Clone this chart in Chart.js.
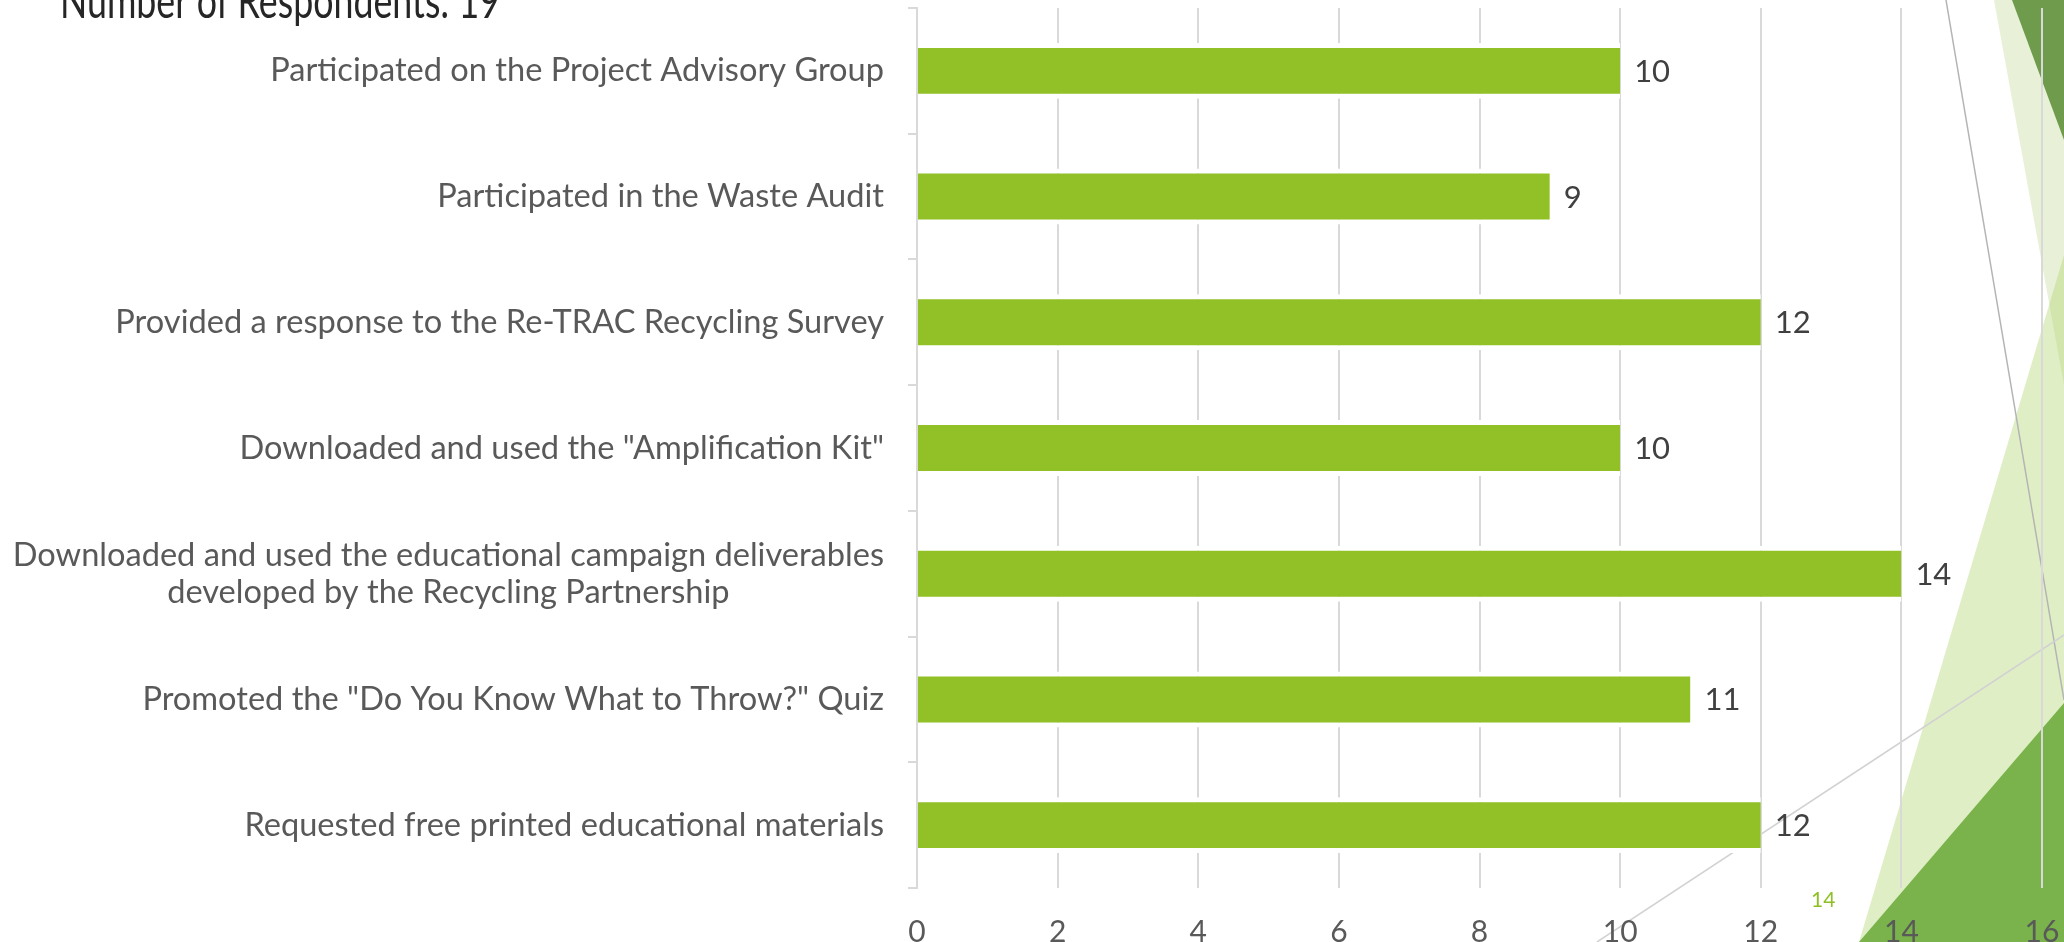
<!DOCTYPE html>
<html>
<head>
<meta charset="utf-8">
<title>Number of Respondents</title>
<script src="https://cdn.jsdelivr.net/npm/chart.js@4/dist/chart.umd.min.js"></script>
<style>
  html, body { margin: 0; padding: 0; background: #fff; overflow: hidden; }
  #wrap { position: relative; width: 2064px; height: 942px; }
  #title {
    position: absolute; left: 60px; top: -24px; margin: 0;
    font: 48px Lato, sans-serif; line-height: 1; color: #262626; white-space: nowrap;
    transform: scaleX(0.745); transform-origin: 0 0;
  }
  #pageNo {
    position: absolute; left: 1811px; top: 886px;
    font: 21px Lato, sans-serif; color: #8fbf26;
  }
</style>
</head>
<body>
<div id="wrap">
  <canvas id="chart" width="2064" height="942"></canvas>
  <div id="title">Number of Respondents: 19</div>
  <div id="pageNo">14</div>
</div>
<script>
/* ---- data ---- */
const categories = [
  ["Participated on the Project Advisory Group"],
  ["Participated in the Waste Audit"],
  ["Provided a response to the Re-TRAC Recycling Survey"],
  ['Downloaded and used the "Amplification Kit"'],
  ["Downloaded and used the educational campaign deliverables",
   "developed by the Recycling Partnership"],
  ['Promoted the "Do You Know What to Throw?" Quiz'],
  ["Requested free printed educational materials"],
];
const respondents = [10, 9, 12, 10, 14, 11, 12];
const axisMin = 0;
const axisMax = 16;
const axisStep = 2;

const FONT = "Lato, sans-serif";

/* slide background shapes (theme decoration, not data) */
const slideDecor = {
  id: "slideDecor",
  beforeDraw(chart) {
    const c = chart.ctx;
    const poly = (pts, fill) => {
      c.beginPath();
      c.moveTo(pts[0][0], pts[0][1]);
      pts.slice(1).forEach((p) => c.lineTo(p[0], p[1]));
      c.closePath();
      c.fillStyle = fill;
      c.fill();
    };
    const line = (a, b, color, w) => {
      c.beginPath();
      c.moveTo(a[0], a[1]);
      c.lineTo(b[0], b[1]);
      c.strokeStyle = color;
      c.lineWidth = w;
      c.stroke();
    };
    c.save();
    poly([[1994, 0], [2064, 0], [2064, 385]], "#e8f1d8");
    poly([[2012, 0], [2064, 0], [2064, 140]], "#6f9b4c");
    poly([[2064, 255], [1859, 942], [2064, 942]], "rgba(176,212,110,0.4)");
    poly([[2064, 703], [1859, 942], [2064, 942]], "#7ab24b");
    line([1946, 0], [2064, 700], "#b4b4b4", 1.5);
    line([1597, 942], [2064, 635], "#d2d2d2", 1.5);
    c.restore();
  },
};

/* category labels: right aligned, multi-line labels centred on themselves */
const categoryLabels = {
  id: "categoryLabels",
  afterDraw(chart) {
    const c = chart.ctx;
    const y = chart.scales.y;
    const right = y.right - 33;
    const lh = 37;
    c.save();
    c.font = "32.6px " + FONT;
    c.fillStyle = "#595959";
    c.textBaseline = "middle";
    categories.forEach((lines, i) => {
      const cy = y.getPixelForValue(i);
      const maxW = Math.max(...lines.map((l) => c.measureText(l).width));
      lines.forEach((l, k) => {
        const ly = cy + (k - (lines.length - 1) / 2) * lh;
        if (lines.length > 1) {
          c.textAlign = "center";
          c.fillText(l, right - maxW / 2, ly);
        } else {
          c.textAlign = "right";
          c.fillText(l, right, ly);
        }
      });
    });
    c.restore();
  },
};

/* value labels at bar ends */
const valueLabels = {
  id: "valueLabels",
  afterDatasetsDraw(chart) {
    const c = chart.ctx;
    const meta = chart.getDatasetMeta(0);
    c.save();
    c.font = "31px " + FONT;
    c.fillStyle = "#404040";
    c.textAlign = "left";
    c.textBaseline = "middle";
    meta.data.forEach((bar, i) => {
      c.fillText(String(respondents[i]), bar.x + 14, bar.y + 1);
    });
    c.restore();
  },
};

new Chart(document.getElementById("chart"), {
  type: "bar",
  data: {
    labels: categories,
    datasets: [
      {
        data: respondents,
        backgroundColor: "#92c127",
        borderColor: "#ffffff",
        borderWidth: { top: 5, bottom: 5, left: 0, right: 0 },
        borderSkipped: false,
        categoryPercentage: 1,
        barPercentage: 0.445,
      },
    ],
  },
  options: {
    indexAxis: "y",
    responsive: false,
    animation: false,
    devicePixelRatio: 1,
    layout: { padding: { top: 8, right: 22, left: 0, bottom: 0 } },
    plugins: {
      legend: { display: false },
      tooltip: { enabled: false },
    },
    scales: {
      x: {
        min: axisMin,
        max: axisMax,
        ticks: {
          stepSize: axisStep,
          color: "#595959",
          font: { family: FONT, size: 30 },
          padding: 26,
        },
        grid: { color: "#d9d9d9", lineWidth: 2, drawTicks: false },
        border: { display: false },
        afterFit(scale) {
          scale.height = 54;
          scale.paddingLeft = 0;
          scale.paddingRight = 0;
        },
      },
      y: {
        type: "category",
        offset: true,
        ticks: { display: false },
        grid: {
          offset: true,
          drawOnChartArea: false,
          drawTicks: true,
          tickLength: 9,
          color: "#d9d9d9",
          lineWidth: 2,
        },
        border: { color: "#d9d9d9", width: 2 },
        afterFit(scale) {
          scale.width = 917;
        },
      },
    },
  },
  plugins: [slideDecor, categoryLabels, valueLabels],
});
</script>
</body>
</html>
